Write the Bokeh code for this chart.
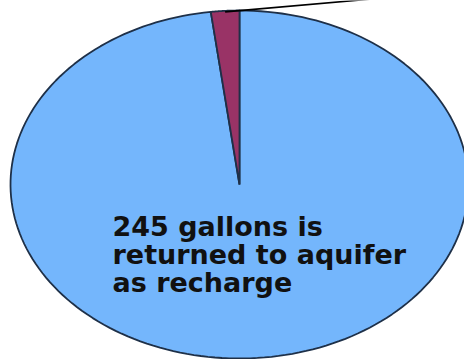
import numpy as np
from bokeh.plotting import figure
from bokeh.models import Range1d, ColumnDataSource
from bokeh.core.properties import value
from bokeh.embed import file_html
from bokeh.resources import INLINE

# data
categories = ["Returned to aquifer as recharge", "Other use"]
values = [245, 5]
colors = ["#74B6FC", "#993366"]
label_lines = ["245 gallons is", "returned to aquifer", "as recharge"]

W, H = 464, 359
p = figure(width=W, height=H, output_backend="svg", toolbar_location=None,
           x_range=Range1d(0, W), y_range=Range1d(H, 0),
           min_border=0, outline_line_color=None, background_fill_color="white",
           border_fill_color="white")
p.axis.visible = False
p.grid.visible = False

# ellipse geometry (layout)
cx, cy, a, b = 239, 184, 229, 174
total = float(sum(values))
start = 90.0  # degrees, clockwise from 12 o'clock
xs, ys = [], []
ang = start
for v in values:
    span = 360.0 * v / total
    t = np.radians(np.linspace(ang, ang - span, 200))
    px = np.concatenate([[cx], cx + a * np.cos(t), [cx]])
    py = np.concatenate([[cy], cy - b * np.sin(t), [cy]])
    xs.append(list(px)); ys.append(list(py))
    ang -= span

src = ColumnDataSource(dict(xs=xs, ys=ys, color=colors, cat=categories))
p.patches("xs", "ys", source=src, fill_color="color", line_color="#1E3048", line_width=1.8)

# leader line from small slice to (off-chart) label
mid = np.radians(start + 360.0 * values[1] / total / 2)
lx0 = cx + a * np.cos(mid)
ly0 = cy - b * np.sin(mid) + 1
p.line([lx0, lx0 + 240], [ly0, ly0 - 21], line_color="black", line_width=1.6)

x0, y0, dy = 112, 226, 28
p.text(x=[x0] * len(label_lines), y=[y0 + i * dy for i in range(len(label_lines))],
       text=label_lines, text_font=value("DejaVu Sans"),
       text_font_style="bold", text_font_size="27px", text_color="#111111",
       text_baseline="alphabetic", text_align="left")

open("out.html", "w").write(file_html(p, INLINE))
